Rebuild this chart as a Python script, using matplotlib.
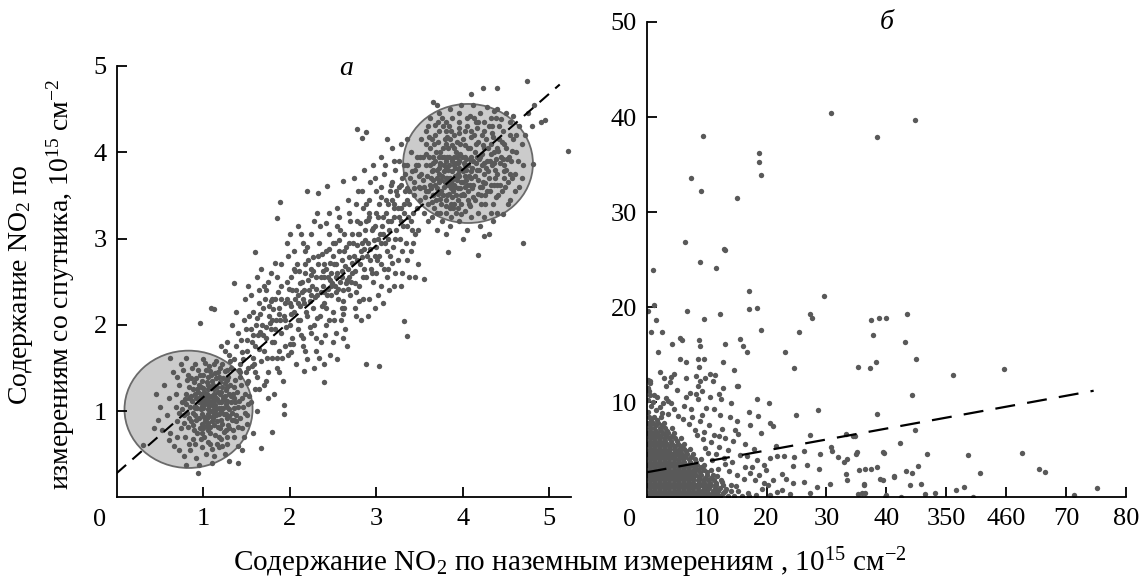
import numpy as np
import matplotlib
matplotlib.use("Agg")
import matplotlib.pyplot as plt
from matplotlib.patches import Ellipse

plt.rcParams['font.family'] = ['Liberation Serif', 'DejaVu Serif']
plt.rcParams['mathtext.fontset'] = 'custom'
plt.rcParams['mathtext.rm'] = 'Liberation Serif'
plt.rcParams['mathtext.it'] = 'Liberation Serif:italic'

# ---------------- panel a data ----------------
a_low_core = [(0.80,1.20),(0.85,1.05),(0.88,1.25),(0.90,0.95),(0.92,1.15),(0.95,1.30),(0.97,1.02),(0.98,0.85),
 (1.00,1.18),(1.02,1.08),(1.04,0.92),(1.05,1.25),(1.07,1.12),(1.08,1.00),(1.10,1.35),(1.10,0.88),(1.12,1.20),
 (1.13,1.05),(1.15,0.95),(1.16,1.28),(1.18,1.10),(1.20,1.00),(1.20,1.22),(1.22,0.85),(1.24,1.15),(1.25,1.32),
 (1.27,1.05),(1.28,0.92),(1.30,1.20),(1.32,1.10),(0.78,0.95),(0.82,0.82),(0.86,1.38),(0.93,0.75),(0.96,1.42),
 (1.01,0.70),(1.03,1.48),(1.06,0.78),(1.09,1.42),(1.14,0.72),(1.17,1.45),(1.21,0.68),(1.26,0.78),(1.29,1.40),
 (1.33,0.98),(1.35,1.28),(0.75,1.10),(0.72,1.30),(0.70,0.88),(0.88,0.68),(0.99,1.10),(1.11,1.13),(1.05,1.02),
 (0.94,1.22),(1.19,0.80),(1.23,1.38),(1.36,1.15),(0.84,1.15),(1.15,1.38),(1.01,0.93),(0.97,1.20),(1.09,1.27),
 (1.14,1.16),(1.04,1.34),(0.91,1.06),(1.18,1.03),(1.26,1.24),(0.83,0.92),(1.06,0.86),(1.12,0.95)]
a_low_core2 = [(0.76,1.02),(0.79,1.14),(0.81,0.98),(0.83,1.28),(0.86,0.88),(0.87,1.12),(0.89,1.34),(0.90,1.03),
 (0.92,0.90),(0.93,1.26),(0.95,1.10),(0.96,0.80),(0.98,1.35),(0.99,0.97),(1.00,1.27),(1.01,1.14),(1.03,0.83),
 (1.04,1.20),(1.05,0.96),(1.06,1.40),(1.07,1.06),(1.08,0.74),(1.09,1.18),(1.10,1.00),(1.11,1.30),(1.12,0.84),
 (1.13,1.12),(1.14,1.44),(1.15,1.02),(1.16,0.88),(1.17,1.22),(1.18,0.96),(1.19,1.34),(1.20,1.10),(1.21,0.90),
 (1.22,1.28),(1.23,1.04),(1.24,0.76),(1.25,1.18),(1.26,0.96),(1.27,1.36),(1.28,1.12),(1.29,0.84),(1.30,1.02),
 (1.31,1.30),(1.33,0.90),(1.34,1.20),(1.36,1.04),(1.37,1.36),(1.38,0.95),(1.39,1.22),(1.41,1.12),(1.43,0.92),
 (1.44,1.30),(1.46,1.05),(1.47,0.70),(1.49,1.45),(1.51,0.85),(1.53,1.18),(1.56,1.52),(0.68,1.20),(0.70,1.40),
 (0.72,0.98),(0.74,0.80),(0.77,1.48),(0.79,0.70),(0.81,1.36),(0.84,0.62),(0.87,1.50),(0.89,0.78),(0.91,0.62),
 (0.94,1.48),(0.97,0.68),(1.00,0.80),(1.02,1.56),(1.05,0.64),(1.07,1.52),(1.10,0.56),(1.13,1.54),(1.16,0.62),
 (1.19,1.50),(1.22,0.60),(1.25,1.46),(1.28,0.70),(1.31,1.58),(1.34,0.78),(1.00,1.04),(1.08,1.09),(1.14,1.07),
 (0.96,1.16)]
a_low_core3 = [(0.86,1.18),(0.88,0.98),(0.90,1.20),(0.93,1.04),(0.95,0.92),(0.97,1.28),(0.99,1.06),(1.01,1.22),
 (1.02,0.88),(1.04,1.12),(1.06,1.30),(1.07,0.94),(1.09,1.08),(1.11,0.92),(1.12,1.26),(1.14,1.00),(1.16,1.14),
 (1.17,0.82),(1.19,1.20),(1.21,1.04),(1.23,1.16),(1.24,0.96),(1.26,1.08),(1.28,1.28),(1.30,0.94),(1.32,1.18),
 (1.35,0.90),(1.37,1.10),(0.92,1.38),(1.00,1.42),(1.08,1.46),(1.18,1.40),(1.27,1.48),(0.88,0.84),(0.98,0.74),
 (1.08,0.82),(1.18,0.70),(1.30,0.80),(1.40,0.82),(1.42,1.45),(0.80,1.08),(0.82,1.42),(0.78,0.86),(1.45,1.15),
 (1.48,0.98),(1.50,1.32),(1.52,1.08),(1.05,1.16),(1.13,0.98),(1.22,1.12)]
a_low_outer = [(0.55,1.30),(0.58,0.95),(0.60,1.15),(0.62,0.75),(0.65,1.45),(0.66,0.60),(0.68,1.05),(0.72,0.55),
 (0.74,1.55),(0.78,0.48),(0.80,1.62),(0.85,0.55),(0.90,1.55),(0.92,0.45),(0.98,0.58),(1.00,1.60),(1.03,0.50),
 (1.08,0.62),(1.12,0.48),(1.15,1.58),(1.18,0.58),(1.22,1.55),(1.25,0.50),(1.28,0.62),(1.32,1.50),(1.35,0.70),
 (1.38,0.88),(1.40,1.05),(1.42,1.40),(1.45,0.80),(1.48,1.20),(1.50,0.95),(1.52,1.35),(1.55,1.10),(1.58,0.75),
 (1.60,1.45),(1.62,1.00),(1.65,1.25),(0.50,1.05),(0.52,0.78),(0.45,1.20),(0.48,0.90),(0.62,1.62),(0.70,0.70),
 (1.40,0.60),(1.45,0.55),(0.80,0.38),(1.10,0.40),(1.30,0.42),(0.95,0.38)]
a_trans = [(1.35,1.60),(1.38,1.75),(1.40,1.90),(1.42,1.55),(1.45,1.68),(1.47,2.05),(1.50,1.82),(1.52,1.50),
 (1.55,1.95),(1.57,1.62),(1.58,2.15),(1.60,1.75),(1.62,1.40),(1.63,1.88),(1.65,2.25),(1.67,1.58),(1.68,2.00),
 (1.70,1.70),(1.72,1.85),(1.73,2.40),(1.75,1.45),(1.76,2.10),(1.78,1.95),(1.80,1.62),(1.80,2.30),(1.82,1.80),
 (1.84,2.05),(1.85,1.50),(1.87,2.20),(1.88,1.70),(1.90,2.45),(1.90,1.90),(1.92,1.35),(1.93,2.10),(1.95,1.75),
 (1.30,1.65),(1.28,1.80),(1.25,1.70),(1.20,1.75),(1.33,2.00),(1.38,2.15),(1.48,2.30),(1.55,2.35),(1.62,2.55),
 (1.70,2.45),(1.78,2.60),(1.85,2.55),(1.60,1.25),(1.70,1.30),(1.75,1.15),(1.82,1.20)]
a_mid = [(1.97,2.30),(1.98,1.65),(2.00,2.00),(2.02,2.55),(2.03,1.85),(2.05,2.15),(2.07,1.55),(2.08,2.70),
 (2.10,2.35),(2.10,1.95),(2.12,2.05),(2.14,2.50),(2.15,1.75),(2.17,2.25),(2.18,2.85),(2.20,2.10),(2.20,1.60),
 (2.22,2.40),(2.24,1.90),(2.25,2.65),(2.27,2.20),(2.28,2.00),(2.30,2.55),(2.30,1.70),(2.32,2.35),(2.34,2.95),
 (2.35,2.10),(2.36,1.80),(2.38,2.45),(2.40,2.70),(2.40,2.25),(2.42,2.00),(2.44,2.55),(2.45,3.05),(2.46,1.65),
 (2.48,2.35),(2.50,2.80),(2.50,2.15),(2.52,2.45),(2.53,1.90),(2.55,2.60),(2.56,2.30),(2.58,3.10),(2.59,2.05),
 (2.60,2.75),(2.62,2.40),(2.63,2.20),(2.65,2.90),(2.66,1.75),(2.68,2.55),(2.70,2.35),(2.70,3.20),(2.05,2.85),
 (2.15,2.95),(2.25,3.05),(2.35,3.15),(2.00,3.05),(2.10,3.15),(2.45,3.30),(2.55,3.35),(2.28,1.50),(2.40,1.55),
 (2.55,1.60),(2.62,1.85),(1.98,2.80),(2.32,3.30),(2.48,2.60),(2.58,2.50),(2.53,2.70),(2.44,2.42),(2.36,2.38),
 (2.23,2.28),(2.12,2.22),(2.07,2.40),(2.67,2.65),(2.18,2.60),(2.42,2.85),(2.65,2.48),(2.38,2.62),(2.27,2.78)]
a_mid2 = [(2.72,2.60),(2.73,2.95),(2.75,2.20),(2.76,3.40),(2.78,2.75),(2.80,3.05),(2.80,2.45),(2.82,2.85),
 (2.84,3.55),(2.85,2.30),(2.86,2.65),(2.88,3.20),(2.90,2.95),(2.90,2.10),(2.92,3.45),(2.93,2.75),(2.95,3.10),
 (2.96,2.50),(2.98,3.70),(3.00,2.90),(3.00,3.30),(3.02,2.35),(3.04,3.05),(3.05,3.60),(3.06,2.70),(3.08,3.25),
 (3.10,2.95),(3.10,3.85),(3.12,2.55),(3.14,3.40),(3.15,3.10),(3.16,2.80),(3.18,3.65),(3.20,3.25),(3.20,2.45),
 (3.22,3.00),(3.24,3.50),(3.25,2.75),(3.26,3.90),(3.28,3.20),(3.30,3.70),(3.30,2.60),(3.32,3.40),(3.34,2.95),
 (3.35,3.85),(3.36,3.15),(3.38,3.55),(3.40,2.85),(3.40,4.00),(3.42,3.30),(3.44,3.65),(3.45,3.05),(3.46,3.85),
 (3.48,2.70),(3.50,3.45),(3.50,3.95),(2.74,3.70),(2.86,3.80),(2.96,3.85),(3.06,3.95),(3.18,4.05),(3.12,4.15),
 (3.28,4.10),(3.36,4.15),(2.82,2.05),(2.98,2.20),(3.08,2.25),(3.15,2.40),(3.28,2.45),(3.38,2.55),(3.45,2.55),
 (2.78,3.20),(2.92,3.25),(3.03,2.80),(3.22,3.80),(3.33,3.55),(2.88,2.55),(3.14,2.65),(3.00,3.55),(3.25,3.35)]
a_mid3 = [(1.41,1.48),(1.44,1.82),(1.46,1.60),(1.49,1.95),(1.51,1.70),(1.53,2.10),(1.56,1.80),(1.59,1.55),
 (1.61,2.00),(1.64,1.72),(1.66,2.12),(1.69,1.88),(1.71,2.30),(1.74,1.62),(1.77,2.02),(1.79,1.80),(1.81,2.18),
 (1.83,1.95),(1.86,2.38),(1.89,2.05),(1.91,1.62),(1.94,2.25),(1.96,1.98),(1.99,2.42),(2.01,2.12),(2.04,1.78),
 (2.06,2.30),(2.09,2.05),(2.11,2.62),(2.13,1.88),(2.16,2.40),(2.19,2.15),(2.21,2.75),(2.23,1.98),(2.26,2.45),
 (2.29,2.32),(2.31,2.08),(2.33,2.70),(2.37,2.22),(2.39,2.55),(2.41,1.88),(2.43,2.35),(2.47,2.72),(2.49,2.48),
 (2.51,2.05),(2.54,2.38),(2.57,2.85),(2.60,2.55),(2.61,2.28),(2.64,2.68),(2.67,2.42),(2.69,2.95),(2.71,2.50),
 (2.74,2.80),(2.77,2.38),(2.79,3.05),(2.81,2.70),(2.83,2.95),(2.85,2.55),(2.87,3.10),(2.89,2.80),(2.91,3.30),
 (2.94,2.65),(2.97,2.98),(2.99,3.15),(3.01,2.75),(3.03,3.40),(3.05,2.95),(3.07,3.15),(3.09,2.65),(3.11,3.30),
 (3.13,3.00),(3.16,3.55),(3.17,3.20),(3.19,2.90),(3.21,3.40),(3.23,3.10),(3.26,3.60),(3.27,3.00),(3.29,3.35),
 (3.31,3.15),(3.33,3.75),(3.35,3.45),(3.37,3.25),(3.39,3.70),(3.41,3.10),(3.43,3.50),(3.45,3.80),(3.47,3.35),
 (3.49,3.60),(1.52,2.45),(1.67,2.65),(1.83,2.72),(1.97,2.95),(2.13,3.05),(2.28,3.20),(2.42,3.18),(2.57,3.25),
 (2.67,3.45),(2.79,3.55),(2.93,3.65),(3.09,3.75),(3.20,3.90),(1.72,1.35),(1.88,1.45),(2.02,1.68),(2.18,1.70),
 (2.34,1.62),(2.50,1.80),(2.64,1.95),(2.76,2.10),(2.92,2.30),(3.06,2.45),(3.22,2.60),(3.36,2.75),(2.24,2.58),
 (2.37,2.82),(2.52,2.95),(2.63,3.05),(2.02,2.22),(2.56,2.42),(2.86,2.88),(3.18,3.45),(2.72,2.72),(2.46,2.52),
 (3.02,3.00),(3.32,3.30),(2.14,2.38),(1.78,2.28),(2.88,3.40)]
a_mid4 = [(1.58,1.88),(1.62,2.08),(1.66,1.92),(1.69,2.20),(1.73,1.98),(1.76,2.22),(1.80,2.05),(1.83,2.30),
 (1.87,2.12),(1.90,2.30),(1.94,2.05),(1.97,2.50),(2.00,2.25),(2.03,2.40),(2.06,2.62),(2.09,2.25),(2.12,2.48),
 (2.15,2.30),(2.18,2.70),(2.21,2.52),(2.24,2.35),(2.27,2.62),(2.30,2.42),(2.33,2.80),(2.36,2.55),(2.39,2.38),
 (2.42,2.65),(2.45,2.88),(2.48,2.45),(2.51,2.70),(2.54,2.55),(2.57,2.98),(2.60,2.62),(2.63,2.85),(2.66,2.52),
 (2.69,2.78),(2.72,3.05),(2.75,2.62),(2.78,2.92),(2.81,3.18),(2.84,2.78),(2.87,2.98),(2.90,3.22),(2.93,2.88),
 (2.96,3.12),(2.99,2.80),(3.02,3.25),(3.05,3.48),(3.08,3.05),(3.11,3.45),(3.14,3.20),(3.17,3.62),(3.20,3.35),
 (3.23,3.55),(3.26,3.25),(3.29,3.62),(3.32,3.85),(3.35,3.58),(3.38,3.40),(3.41,3.78),(3.44,3.58),(3.47,3.95),
 (3.49,3.72),(2.50,2.95),(2.42,2.20),(2.60,2.20),(2.75,2.48),(2.68,3.30),(2.85,3.35),(2.95,2.60),(3.12,2.85),
 (3.30,2.85),(3.42,2.95),(2.20,2.90),(2.05,2.65),(1.90,2.70),(1.75,2.50),(1.65,2.40),(2.30,1.85),(2.15,1.85),
 (2.00,1.78),(1.85,1.62),(2.45,2.05),(2.62,2.12),(2.80,2.28),(3.00,2.60),(3.18,2.72),(3.40,3.20),(3.48,3.10),
 (2.55,3.15)]
a_high = [(3.55,3.60),(3.58,3.85),(3.60,3.40),(3.62,4.05),(3.63,3.70),(3.65,3.95),(3.66,3.50),(3.68,4.20),
 (3.70,3.80),(3.70,3.30),(3.72,3.65),(3.74,4.00),(3.75,3.55),(3.77,4.30),(3.78,3.85),(3.80,3.45),(3.80,4.10),
 (3.82,3.70),(3.84,3.95),(3.85,3.35),(3.86,4.25),(3.88,3.60),(3.90,3.85),(3.90,4.05),(3.92,3.50),(3.94,3.75),
 (3.95,4.35),(3.96,3.90),(3.98,3.40),(4.00,4.15),(4.00,3.65),(4.02,3.95),(4.04,3.80),(4.05,4.40),(4.06,3.55),
 (4.08,4.05),(4.10,3.70),(4.10,4.25),(4.12,3.90),(4.14,3.45),(4.15,4.10),(4.16,3.80),(4.18,4.35),(4.20,3.95),
 (4.20,3.60),(4.22,4.20),(4.24,3.75),(4.25,4.05),(4.26,3.50),(4.28,3.90),(4.30,4.30),(4.30,3.70),(4.32,4.10),
 (4.34,3.85),(4.35,3.40),(4.36,4.00),(4.38,4.40),(4.40,3.75),(4.42,4.15),(4.44,3.95),(4.45,3.55),(4.46,4.25),
 (4.48,3.85),(4.50,4.05),(4.52,3.65),(4.55,4.35),(4.56,3.90),(4.58,4.15),(4.60,3.75),(4.62,4.00),(3.72,3.95),
 (3.83,3.62),(3.87,3.78),(3.93,3.68),(3.97,3.58),(4.03,3.72),(3.76,3.72),(3.68,3.62),(3.88,3.48),(4.08,3.62),
 (3.80,3.90),(3.64,3.78),(3.92,3.30),(3.76,3.20),(3.60,3.20),(3.55,3.30),(3.52,3.75),(3.52,4.15),(3.58,4.25),
 (3.62,4.40),(3.72,4.45),(3.85,4.50),(3.98,4.55),(4.12,4.55),(4.28,4.52),(4.40,4.50),(3.70,4.55),(3.65,4.58),
 (4.50,4.45),(4.58,4.42),(4.65,4.30),(4.68,4.10),(4.70,3.85),(4.65,3.60),(4.55,3.45),(4.40,3.30),(4.25,3.25),
 (4.10,3.25),(3.95,3.20),(3.85,3.15),(4.05,3.10),(4.20,3.15),(4.35,3.20),(3.70,3.10),(3.80,3.05),(4.00,3.00),
 (4.30,3.05),(4.75,4.45),(4.82,4.55),(4.80,4.30),(4.90,4.35),(4.72,4.20),(3.82,4.18),(3.96,4.22),(4.14,4.00),
 (4.06,3.85),(3.74,3.88),(3.90,3.95),(4.22,3.85),(4.36,3.62),(4.48,3.70),(3.86,3.40)]
a_high2 = [(3.56,3.48),(3.59,3.72),(3.61,3.95),(3.63,3.58),(3.64,4.15),(3.66,3.80),(3.67,3.35),(3.69,4.00),
 (3.71,3.52),(3.72,4.25),(3.73,3.75),(3.75,3.40),(3.76,3.95),(3.78,3.60),(3.79,4.15),(3.81,3.82),(3.82,3.50),
 (3.83,4.05),(3.85,3.70),(3.86,3.25),(3.87,3.90),(3.89,3.55),(3.90,4.20),(3.91,3.72),(3.93,3.95),(3.94,3.45),
 (3.95,3.82),(3.97,4.10),(3.98,3.65),(3.99,3.95),(4.01,3.50),(4.02,4.25),(4.03,3.85),(4.05,3.62),(4.06,4.05),
 (4.07,3.40),(4.09,3.78),(4.10,3.95),(4.11,3.58),(4.13,4.20),(4.14,3.72),(4.16,3.95),(4.17,3.52),(4.18,4.12),
 (4.19,3.80),(4.21,3.40),(4.22,3.98),(4.23,3.65),(4.25,4.25),(4.27,3.82),(4.28,3.55),(4.29,4.05),(4.31,3.90),
 (4.33,3.62),(4.34,4.22),(4.37,3.80),(4.39,4.05),(4.41,3.50),(4.43,3.88),(4.47,4.10),(4.49,3.60),(4.53,3.95),
 (4.57,3.70),(4.61,4.20),(4.64,3.90),(3.54,3.95),(3.57,4.10),(3.60,3.55),(3.66,3.68),(3.69,3.45),(3.74,3.85),
 (3.77,3.50),(3.80,3.70),(3.84,3.85),(3.88,3.68),(3.91,3.60),(3.94,3.88),(3.96,3.72),(3.99,3.80),(4.02,3.60),
 (4.04,3.92),(4.07,3.72),(3.82,3.95),(3.86,3.58),(3.78,3.78),(3.70,3.70),(3.62,3.85),(3.92,4.00),(3.84,4.30),
 (3.96,4.45),(4.08,4.42),(4.20,4.45),(4.32,4.40),(4.44,4.38),(3.76,4.40),(3.68,4.32),(3.60,4.30),(3.50,3.58),
 (3.48,3.85),(4.54,4.20),(4.60,3.55),(4.52,3.40),(4.46,3.28),(4.32,3.30),(4.18,3.30),(4.02,3.32),(3.90,3.40),
 (3.74,3.30),(3.64,3.25),(4.68,3.70),(3.98,3.28),(4.12,3.48),(4.26,3.40),(4.38,3.48),(4.50,3.80),(4.42,4.30),
 (4.36,4.48),(4.15,4.35),(3.88,4.40),(3.80,4.35)]
a_high3 = [(3.62,3.62),(3.65,3.88),(3.67,4.10),(3.70,3.58),(3.73,3.82),(3.74,3.46),(3.77,4.05),(3.79,3.66),
 (3.81,3.38),(3.83,3.80),(3.85,4.15),(3.86,3.64),(3.88,3.92),(3.89,3.35),(3.91,3.82),(3.93,4.12),(3.94,3.58),
 (3.96,3.80),(3.97,3.98),(4.00,3.52),(4.01,3.88),(4.03,4.08),(4.04,3.68),(4.06,3.45),(4.08,3.92),(4.09,4.18),
 (4.11,3.82),(4.12,3.62),(4.15,3.88),(4.16,4.28),(4.18,3.68),(4.19,3.92),(4.21,3.50),(4.23,4.08),(4.24,3.88),
 (4.26,3.64),(4.27,4.15),(4.29,3.78),(4.31,3.55),(4.33,3.98),(4.35,4.18),(4.37,3.70),(4.38,3.92),(4.41,4.02),
 (4.43,3.62),(4.45,4.12),(4.47,3.78),(4.51,3.92),(4.54,3.75),(4.57,4.02),(3.58,3.55),(3.61,4.18),(3.64,3.42),
 (3.68,3.90),(3.71,4.12),(3.75,3.68),(3.78,3.95),(3.81,4.25),(3.84,3.52),(3.87,4.08),(3.90,3.62),(3.92,3.88),
 (3.95,4.28),(3.98,3.50),(4.00,3.78),(4.05,4.30),(4.13,4.40),(4.24,4.35),(4.34,4.30),(3.71,4.35),(3.80,3.30),
 (3.94,3.35),(4.08,3.38),(4.22,3.60),(4.36,3.88),(4.46,3.92),(4.40,3.62),(3.66,3.50),(3.58,3.98),(3.54,3.68)]
a_outliers = [(4.74,4.83),(4.23,4.74),(4.39,4.74),(4.10,4.68),(4.95,4.37),(4.81,3.86),(4.70,2.95),(4.17,2.81),
 (4.25,3.03),(3.83,2.84),(3.55,2.53),(3.36,1.87),(3.32,2.04),(3.03,1.52),(2.88,1.54),(2.39,1.34),(2.16,1.46),
 (2.78,4.27),(2.88,4.24),(2.84,4.17),(1.89,3.42),(2.20,3.55),(2.43,3.61),(2.33,3.53),(2.62,3.67),(1.85,3.24),
 (1.60,2.84),(1.36,2.49),(1.09,2.20),(0.96,2.02),(1.13,2.18),(0.94,0.28),(1.40,0.40),(1.67,0.57),(1.79,0.76),
 (1.93,1.07),(1.93,0.96),(0.43,0.80),(0.30,0.61),(0.61,0.67),(5.22,4.01)]
a_fit = (0.28, 0.88)          # intercept, slope
a_fit_x = (0.0, 5.12)
a_circles = [((0.83, 1.02), 1.48, 1.36), ((4.06, 3.87), 1.50, 1.38)]

# ---------------- panel b data ----------------
b_dense_rows = [
 (0.15, [0.2,1.0,1.8,2.6,3.4,4.2,5.0,5.8,6.6,7.4,8.2,9.0,9.8,10.6,11.4,12.3,13.5,14.6,15.9,17.0]),
 (0.42, [0.6,1.4,2.2,3.0,3.8,4.6,5.4,6.2,7.0,7.8,8.6,9.4,10.2,11.0,11.8,12.8]),
 (0.70, [0.5,1.3,2.1,2.9,3.7,4.5,5.3,6.1,6.9,7.7,8.5,9.3,10.1,11.0,11.9,13.0,14.1,15.3]),
 (0.97, [0.6,1.4,2.2,3.0,3.8,4.6,5.4,6.2,7.0,7.8,8.6,9.5,10.4,11.4,12.2]),
 (1.25, [0.2,1.0,1.8,2.6,3.4,4.2,5.0,5.8,6.6,7.4,8.2,9.0,9.9,10.8,11.6,12.7,14.0]),
 (1.52, [0.6,1.4,2.2,3.0,3.8,4.6,5.4,6.2,7.0,7.8,8.7,9.6,10.5,11.5]),
 (1.80, [0.5,1.3,2.1,2.9,3.7,4.5,5.3,6.1,6.9,7.7,8.5,9.4,10.3,11.2,12.4]),
 (2.07, [0.6,1.4,2.2,3.0,3.8,4.6,5.4,6.2,7.0,7.8,8.8,9.8,10.8]),
 (2.35, [0.2,1.0,1.8,2.6,3.4,4.2,5.0,5.8,6.6,7.4,8.2,9.1,10.0,11.0]),
 (2.62, [0.6,1.4,2.2,3.0,3.8,4.6,5.4,6.2,7.0,7.9,8.9,10.1]),
 (2.90, [0.5,1.3,2.1,2.9,3.7,4.5,5.3,6.1,6.9,7.7,8.6,9.6,10.7]),
 (3.17, [0.6,1.4,2.2,3.0,3.8,4.6,5.4,6.2,7.1,8.0,9.1]),
 (3.45, [0.2,1.0,1.8,2.6,3.4,4.2,5.0,5.8,6.6,7.5,8.4,9.5]),
 (3.72, [0.6,1.4,2.2,3.0,3.8,4.6,5.4,6.3,7.2,8.2]),
 (4.00, [0.5,1.3,2.1,2.9,3.7,4.5,5.3,6.1,7.0,8.0,9.0]),
 (4.27, [0.6,1.4,2.2,3.0,3.8,4.6,5.5,6.4,7.4]),
 (4.55, [0.2,1.0,1.8,2.6,3.4,4.2,5.0,5.9,6.8,7.8]),
 (4.82, [0.6,1.4,2.2,3.0,3.8,4.7,5.6,6.6]),
 (5.10, [0.5,1.3,2.1,2.9,3.7,4.5,5.4,6.3,7.3]),
 (5.37, [0.6,1.4,2.2,3.0,3.9,4.8,5.8]),
 (5.65, [0.2,1.0,1.8,2.6,3.4,4.3,5.2,6.2]),
 (5.92, [0.6,1.4,2.2,3.1,4.0,5.0]),
 (6.20, [0.5,1.3,2.1,2.9,3.8,4.7,5.7]),
 (6.47, [0.6,1.4,2.3,3.2,4.2]),
 (6.75, [0.2,1.0,1.8,2.7,3.6,4.6]),
 (7.02, [0.6,1.5,2.4,3.4]),
 (7.30, [0.5,1.3,2.2,3.1,4.2]),
 (7.57, [0.6,1.5,2.5]),
 (7.85, [0.2,1.0,1.9,2.9]),
 (8.12, [0.7,1.7]),
 (8.40, [0.4,1.3,2.4]),
]
b_near = [(0.3,9.0),(0.8,9.6),(0.2,10.2),(1.1,10.0),(0.5,10.8),(0.2,11.5),(0.6,12.0),(1.6,9.2),(2.3,9.5),
 (1.8,10.6),(2.8,9.9),(3.5,10.1),(0.2,12.3),(0.4,11.2),(2.6,8.9),(3.6,8.8),(4.6,9.3),(5.3,8.5),(6.2,9.6),
 (7.4,9.3),(4.1,9.9),(6.0,8.2),(7.0,7.7),(8.1,7.1),(8.9,8.0),(9.6,6.9),(10.4,7.6),(11.3,6.6),(12.5,7.2),
 (13.1,6.2),(10.8,5.8),(12.0,5.3),(13.6,5.0),(14.4,5.9),(15.3,6.7),(11.6,4.6),(12.9,4.1),(14.2,3.7),(15.6,4.4),
 (16.4,3.2),(13.8,2.8),(15.0,2.3),(16.2,1.9),(17.3,2.6),(18.7,2.3),(19.2,0.9),(20.3,1.3),(21.8,0.6),(16.9,0.5),
 (18.2,0.2),(20.6,0.2),(22.6,2.5),(19.5,3.4),(17.9,5.1),(16.4,5.6),(15.1,8.0),(13.9,8.4),(12.3,8.7),(11.2,9.3),
 (9.9,9.4),(8.6,10.3),(10.6,10.5),(7.3,11.0),(9.3,11.2),(11.0,12.2),(5.1,11.3),(6.6,12.6),(3.9,12.1),(8.2,12.8),
 (10.5,13.0),(12.0,6.5),(9.2,8.7),(14.7,7.1),(17.2,7.6),(19.0,6.8),(21.5,5.4),(9.8,5.2),(10.9,3.9),(11.9,3.0),
 (9.4,6.1),(8.4,6.6),(7.6,8.4),(12.6,1.6),(13.3,0.9),(14.9,1.2),(11.8,2.2),(10.2,4.7),(13.0,3.5)]
b_scatter = [(30.8,40.4),(38.5,37.9),(9.45,37.96),(7.4,33.6),(9.1,32.2),(15.0,31.5),(18.8,36.2),(18.7,35.3),
 (19.0,33.9),(6.4,26.9),(12.96,26.1),(13.1,26.0),(44.8,39.7),(1.1,23.9),(8.9,24.8),(11.6,24.1),(17.0,21.7),
 (29.6,21.2),(1.3,20.2),(0.3,19.6),(6.8,19.6),(9.6,18.8),(12.2,19.3),(17.1,19.8),(18.4,19.9),(1.5,18.7),
 (0.66,17.4),(2.55,17.4),(19.0,17.6),(25.5,17.4),(27.2,19.3),(27.6,18.9),(37.4,18.7),(38.8,18.9),(37.8,17.1),
 (4.2,16.1),(5.6,16.8),(5.9,16.6),(8.7,16.6),(8.9,15.9),(15.6,16.7),(16.1,15.9),(16.8,15.3),(13.1,16.1),
 (1.9,15.3),(23.1,15.3),(5.5,14.6),(6.5,14.2),(8.5,14.6),(9.5,14.6),(8.7,13.7),(12.7,14.2),(14.6,13.4),
 (24.6,13.6),(35.2,13.7),(37.3,13.6),(38.2,14.2),(2.2,13.2),(2.9,12.6),(4.1,12.7),(4.5,13.0),(0.5,12.2),
 (3.3,11.7),(8.9,12.2),(9.7,12.5),(11.4,12.9),(12.8,11.5),(15.0,11.7),(15.2,11.7),(8.6,11.7),(8.3,10.9),
 (1.3,10.8),(3.3,10.4),(6.5,10.6),(12.1,10.9),(12.4,10.3),(18.4,10.3),(20.4,9.9),(14.0,9.9),(28.6,9.2),
 (25.0,8.7),(38.4,8.8),(17.1,9.0),(18.6,8.5),(20.5,7.8),(21.0,7.5),(27.3,6.6),(33.3,6.7),(34.8,6.5),
 (42.2,5.7),(30.8,5.3),(30.9,4.9),(28.9,4.6),(31.9,4.2),(32.9,3.7),(33.4,4.0),(35.1,4.8),(39.5,4.8),
 (36.5,3.0),(38.4,3.2),(38.9,1.9),(39.4,1.8),(41.3,2.2),(33.3,2.4),(33.4,1.8),(30.6,1.4),(36.3,1.4),
 (35.9,0.4),(36.5,0.4),(40.0,0.2),(28.7,3.0),(26.7,3.4),(24.4,3.3),(23.0,4.3),(24.6,4.2),(26.2,4.9),
 (23.3,1.9),(24.5,1.5),(26.2,1.6),(28.4,1.1),(27.3,0.4),(22.5,0.8),(23.9,0.3),(21.1,1.8),(19.9,2.9),
 (19.5,1.5),(18.1,1.8),(17.5,3.2),(18.4,3.9),(16.7,4.3),(20.6,4.1),(21.7,4.3),
 (40.0,18.9),(43.5,19.3),(43.1,16.3),(44.9,14.6),(51.1,12.9),(59.7,13.5),(44.3,10.8),(44.7,7.1),(34.5,6.4),
 (35.0,4.6),(39.6,4.7),(46.8,4.6),(53.7,4.4),(62.6,4.7),(35.4,2.9),(37.4,3.0),(43.2,2.8),(44.3,2.6),
 (45.3,3.3),(55.7,2.6),(65.4,3.0),(66.5,2.7),(41.2,2.1),(36.3,1.3),(44.0,1.3),(45.8,1.4),(35.2,0.3),
 (46.4,0.3),(48.2,0.5),(51.7,0.8),(53.0,1.1),(54.4,0.0),(42.5,0.0),(39.8,0.05),(71.4,0.2),(75.2,1.0)]
b_fit = (2.63, 0.115)
b_fit_x = (0.0, 74.6)

b_xticks = [10, 20, 30, 40, 50, 60, 70, 80]
b_xticklabels = ['10', '20', '30', '40', '350', '460', '70', '80']
b_yticks = [10, 20, 30, 40, 50]
a_ticks = [1, 2, 3, 4, 5]

dot = '#595959'
W, H = 1139, 579
fig = plt.figure(figsize=(W / 100, H / 100), dpi=100)

def px_axes(l, r, t, b):
    return fig.add_axes([l / W, 1 - b / H, (r - l) / W, (b - t) / H])

axa = px_axes(116.7, 571, 66, 497.3)
axb = px_axes(646.7, 1126, 22, 497.3)

TICK_FS = 19
for ax in (axa, axb):
    ax.spines['top'].set_visible(False)
    ax.spines['right'].set_visible(False)
    for s in ('left', 'bottom'):
        ax.spines[s].set_linewidth(1.3)
    ax.tick_params(direction='in', length=7, width=1.3, labelsize=TICK_FS)
    ax.tick_params(axis='x', pad=8)
    ax.tick_params(axis='y', pad=7)
    ax.set_facecolor('none')

# panel a
axa.set_xlim(0, 5.25)
axa.set_ylim(0, 5)
for (c, w, h) in a_circles:
    axa.add_patch(Ellipse(c, w, h, facecolor='#cbcbcb', edgecolor='#6a6a6a', lw=1.3, zorder=1))
pts_a = np.array(a_low_core + a_low_core2 + a_low_core3 + a_low_outer + a_trans + a_mid + a_mid2
                 + a_mid3 + a_mid4 + a_high + a_high2 + a_high3 + a_outliers)
axa.scatter(pts_a[:, 0], pts_a[:, 1], s=15, color=dot, linewidths=0, zorder=2, clip_on=False)
xa = np.array(a_fit_x)
axa.plot(xa, a_fit[0] + a_fit[1] * xa, color='black', lw=1.5, ls=(0, (6, 4)), zorder=3)
axa.set_xticks(a_ticks)
axa.set_yticks(a_ticks)
axa.text(2.65, 4.97, 'а', fontsize=20, style='italic', ha='center', va='center')

# panel b
axb.set_xlim(0, 80)
axb.set_ylim(0, 50)
dense = [(x, y) for (y, xs) in b_dense_rows for x in xs]
pts_b = np.array(dense + b_near + b_scatter)
axb.scatter(pts_b[:, 0], pts_b[:, 1], s=15, color=dot, linewidths=0, zorder=2)
xb = np.array(b_fit_x)
axb.plot(xb, b_fit[0] + b_fit[1] * xb, color='black', lw=1.6, ls=(0, (9, 5.5)), zorder=3)
axb.set_xticks(b_xticks)
axb.set_xticklabels(b_xticklabels)
axb.set_yticks(b_yticks)
axb.text(40.1, 49.9, 'б', fontsize=20, style='italic', ha='center', va='center')

# corner zeros
fig.text(100 / W, 1 - 520 / H, '0', fontsize=TICK_FS, ha='center', va='center')
fig.text(630 / W, 1 - 520 / H, '0', fontsize=TICK_FS, ha='center', va='center')

# axis labels
fig.text(21.3 / W, 1 - 285 / H, 'Содержание NO$_2$ по', fontsize=20, rotation=90,
         ha='center', va='center')
fig.text(60.7 / W, 1 - 284 / H, 'измерениям со спутника, 10$^{15}$ см$^{-2}$', fontsize=20,
         rotation=90, ha='center', va='center')
fig.text(570 / W, 1 - 563 / H, 'Содержание NO$_2$ по наземным измерениям , 10$^{15}$ см$^{-2}$',
         fontsize=21, ha='center', va='center')

fig.savefig('out.png', dpi=100)
